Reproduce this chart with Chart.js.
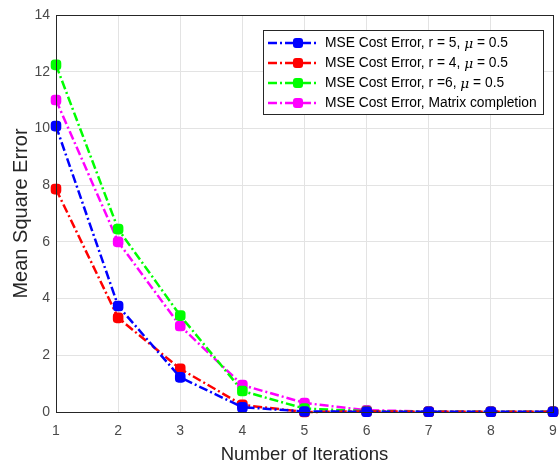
<!DOCTYPE html>
<html>
<head>
<meta charset="utf-8">
<script src="https://cdn.jsdelivr.net/npm/chart.js@4/dist/chart.umd.min.js"></script>
<style>
  body { margin: 0; background: #fff; }
</style>
</head>
<body>
<canvas id="myChartMSE" width="560" height="463"></canvas>
<script>
// data
var iteracoes = [1, 2, 3, 4, 5, 6, 7, 8, 9];
var erroR5 = [10.08, 3.74, 1.22, 0.17, 0.02, 0.01, 0.01, 0.01, 0.01];
var erroR4 = [7.86, 3.32, 1.52, 0.25, 0.0, 0.02, 0.01, 0.01, 0.01];
var erroR6 = [12.24, 6.45, 3.4, 0.74, 0.12, 0.03, 0.01, 0.01, 0.01];
var erroMatriz = [11.0, 6.0, 3.03, 0.95, 0.32, 0.06, 0.02, 0.01, 0.01];
var legendas = [
    ['MSE Cost Error, r = 5, ', 'μ', ' = 0.5'],
    ['MSE Cost Error, r = 4, ', 'μ', ' = 0.5'],
    ['MSE Cost Error, r =6, ', 'μ', ' = 0.5'],
    ['MSE Cost Error, Matrix completion', '', '']
];
var cores = ['#0000ff', '#ff0000', '#00ff00', '#ff00ff'];
var yTicks = [0, 2, 4, 6, 8, 10, 12, 14];

var fonte = '"Liberation Sans", Arial, sans-serif';

function serie(valores, cor, nome) {
    return {
        label: nome,
        data: iteracoes.map(function (x, i) { return { x: x, y: valores[i] }; }),
        borderColor: cor,
        backgroundColor: cor,
        borderWidth: 2.5,
        borderDash: [9, 3, 2, 3],
        pointStyle: 'rectRounded',
        pointRadius: 5,
        pointBorderWidth: 2,
        pointBackgroundColor: cor,
        pointBorderColor: cor,
        tension: 0,
        clip: false
    };
}

// draws box around plot + legend inside the plot, like matlab
var caixaPlugin = {
    id: 'caixa',
    afterDatasetsDraw: function (chart) {
        var ctx = chart.ctx;
        var a = chart.chartArea;
        ctx.save();
        ctx.strokeStyle = '#262626';
        ctx.lineWidth = 1;
        ctx.strokeRect(a.left + 0.5, a.top + 0.5, a.right - a.left, a.bottom - a.top);

        // legend
        var lx = 263, ly = 30, lw = 280, lh = 84;
        ctx.fillStyle = '#fff';
        ctx.fillRect(lx, ly, lw, lh);
        ctx.strokeStyle = '#262626';
        ctx.strokeRect(lx + 0.5, ly + 0.5, lw, lh);
        chart.data.datasets.forEach(function (ds, i) {
            var y = ly + 13 + i * 20;
            ctx.strokeStyle = ds.borderColor;
            ctx.lineWidth = 2.5;
            ctx.setLineDash([9, 3, 2, 3]);
            ctx.beginPath();
            ctx.moveTo(268, y);
            ctx.lineTo(318, y);
            ctx.stroke();
            ctx.setLineDash([]);
            ctx.fillStyle = ds.borderColor;
            ctx.beginPath();
            ctx.roundRect(293, y - 5, 10, 10, 3);
            ctx.fill();
            var partes = legendas[i];
            ctx.fillStyle = '#000';
            ctx.textBaseline = 'middle';
            ctx.font = '13.8px ' + fonte;
            var x = 325;
            ctx.fillText(partes[0], x, y);
            x += ctx.measureText(partes[0]).width;
            if (partes[1]) {
                ctx.font = 'italic 13.8px ' + '"DejaVu Serif", serif';
                ctx.fillText(partes[1], x, y + 1);
                x += ctx.measureText(partes[1]).width;
                ctx.font = '13.8px ' + fonte;
                ctx.fillText(partes[2], x, y);
            }
        });
        ctx.restore();
    }
};

const ctxMSE = document.getElementById('myChartMSE');

var myChartMSE = new Chart(ctxMSE, {
    type: 'line',
    data: {
        datasets: [
            serie(erroR5, cores[0], legendas[0].join('')),
            serie(erroR4, cores[1], legendas[1].join('')),
            serie(erroR6, cores[2], legendas[2].join('')),
            serie(erroMatriz, cores[3], legendas[3].join(''))
        ]
    },
    options: {
        responsive: false,
        animation: false,
        layout: {
            padding: { top: 15, right: 4, left: 9, bottom: 0 }
        },
        scales: {
            x: {
                type: 'linear',
                min: 1,
                max: 9,
                ticks: {
                    stepSize: 1,
                    color: '#4a4a4a',
                    font: { family: fonte, size: 14 },
                    padding: 11
                },
                grid: {
                    color: '#e3e3e3',
                    drawTicks: false
                },
                border: { display: false },
                title: {
                    display: true,
                    text: 'Number of Iterations',
                    color: '#262626',
                    font: { family: fonte, size: 18.5 },
                    padding: { top: 2, bottom: -3 }
                },
                afterFit: function (s) {
                    s.height = 51;
                    s.paddingRight = 0;
                    s.paddingLeft = 0;
                }
            },
            y: {
                min: 0,
                max: 14,
                afterBuildTicks: function (s) {
                    s.ticks = yTicks.map(function (v) { return { value: v }; });
                },
                ticks: {
                    color: '#4a4a4a',
                    font: { family: fonte, size: 14 },
                    padding: 6
                },
                grid: {
                    color: '#e3e3e3',
                    drawTicks: false
                },
                border: { display: false },
                title: {
                    display: true,
                    text: 'Mean Square Error',
                    color: '#262626',
                    font: { family: fonte, size: 20 },
                    padding: { top: 0, bottom: 2 }
                },
                afterFit: function (s) { s.width = 47; }
            }
        },
        plugins: {
            legend: { display: false },
            tooltip: { enabled: false }
        }
    },
    plugins: [caixaPlugin]
});
</script>
</body>
</html>
